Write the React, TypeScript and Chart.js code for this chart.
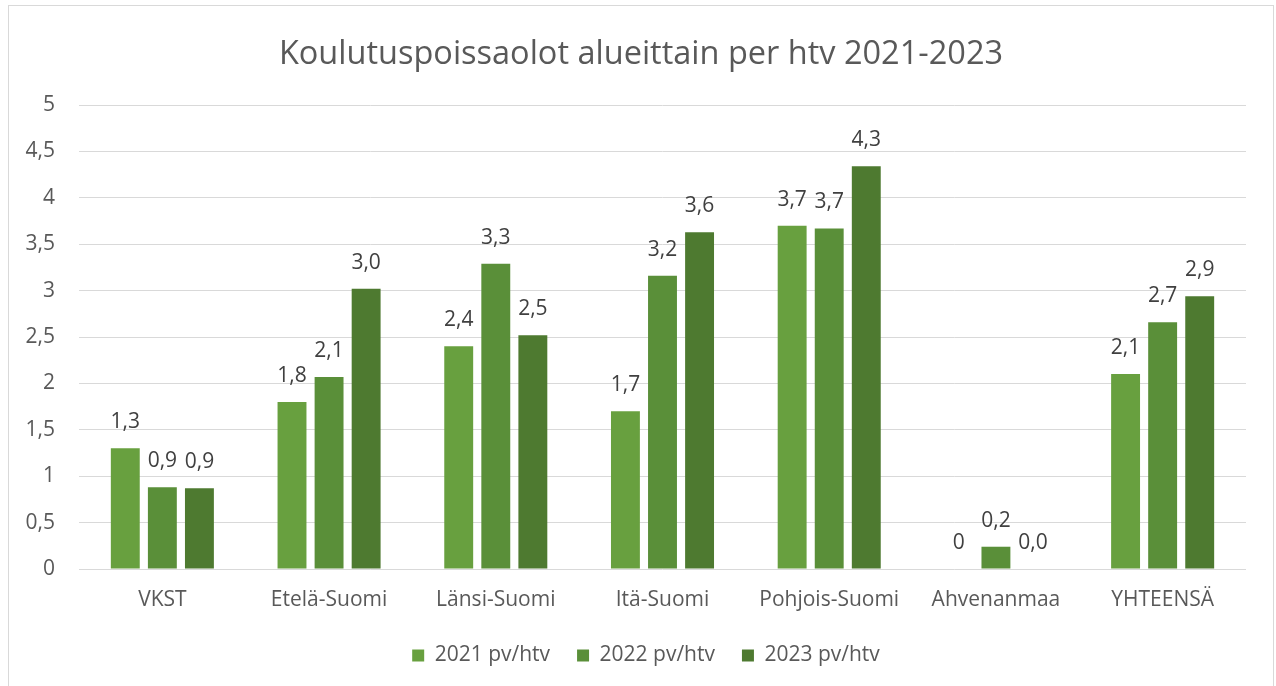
import React, { useEffect, useRef } from "react";
import { Chart, registerables } from "chart.js";

Chart.register(...registerables);

const categories = ["VKST", "Etelä-Suomi", "Länsi-Suomi", "Itä-Suomi", "Pohjois-Suomi", "Ahvenanmaa", "YHTEENSÄ"];
const series2021 = [1.3, 1.8, 2.4, 1.7, 3.7, 0, 2.1];
const series2022 = [0.88, 2.07, 3.29, 3.16, 3.67, 0.24, 2.66];
const series2023 = [0.87, 3.02, 2.52, 3.63, 4.34, 0, 2.94];
const seriesNames = ["2021 pv/htv", "2022 pv/htv", "2023 pv/htv"];
const yTicks = ["0", "0,5", "1", "1,5", "2", "2,5", "3", "3,5", "4", "4,5", "5"];

const FONT = "'Open Sans', sans-serif";
const colors = ["#68a03f", "#5a8f39", "#4e7a30"];

const dataLabels = {
  id: "dataLabels",
  afterDatasetsDraw(chart: any) {
    const ctx = chart.ctx;
    ctx.save();
    ctx.font = `21px ${FONT}`;
    ctx.fillStyle = "#404040";
    ctx.textAlign = "center";
    ctx.textBaseline = "middle";
    chart.data.datasets.forEach((ds: any, di: number) => {
      const meta = chart.getDatasetMeta(di);
      meta.data.forEach((el: any, i: number) => {
        const v = ds.data[i];
        const txt = di === 0 ? String(v).replace(".", ",") : v.toFixed(1).replace(".", ",");
        ctx.fillText(txt, el.x, el.y - 26);
      });
    });
    ctx.restore();
  },
};

// centre title and legend on the framed chart box rather than the plot-shifted layout box
const recenter = {
  id: "recenter",
  afterLayout(chart: any) {
    if (chart.titleBlock) chart.titleBlock.left += 36;
    if (chart.legend) chart.legend.left += 46;
  },
};

export default function App() {
  const ref = useRef<HTMLCanvasElement>(null);
  useEffect(() => {
    const chart = new Chart(ref.current!, {
      type: "bar",
      data: {
        labels: categories,
        datasets: [series2021, series2022, series2023].map((d, i) => ({
          label: seriesNames[i],
          data: d,
          backgroundColor: colors[i],
          categoryPercentage: 0.667,
          barPercentage: 0.78,
        })),
      },
      plugins: [dataLabels, recenter],
      options: {
        animation: false,
        responsive: false,
        layout: { padding: { left: 0, right: 30, top: 0, bottom: 10 } },
        plugins: {
          title: {
            display: true,
            text: "Koulutuspoissaolot alueittain per htv 2021-2023",
            color: "#595959",
            font: { family: FONT, size: 32.5, weight: "normal" },
            padding: { top: 35, bottom: 31 },
          },
          legend: {
            position: "bottom",
            labels: {
              color: "#595959",
              font: { family: FONT, size: 21 },
              boxWidth: 12,
              boxHeight: 12,
              padding: 27,
            },
          },
          tooltip: { enabled: false },
        },
        scales: {
          x: {
            afterFit: (s: any) => { s.height = 49; },
            grid: { display: false, drawTicks: false },
            border: { display: false },
            ticks: { color: "#595959", font: { family: FONT, size: 21 }, padding: 18 },
          },
          y: {
            min: 0,
            max: 5,
            afterFit: (s: any) => { s.width = 79; },
            grid: { color: "#d9d9d9", drawTicks: false },
            border: { display: false },
            ticks: {
              stepSize: 0.5,
              color: "#595959",
              font: { family: FONT, size: 21 },
              padding: 24,
              callback: (_v: any, i: number) => yTicks[i],
            },
          },
        },
      },
    });
    return () => chart.destroy();
  }, []);
  return (
    <div style={{ position: "absolute", left: 0, top: 0, width: 1276, height: 686, background: "#fff", overflow: "hidden" }}>
      <div style={{ position: "absolute", left: 8, top: 5, width: 1266, height: 700, border: "1px solid #d9d9d9", boxSizing: "border-box" }} />
      <canvas ref={ref} width={1276} height={686} style={{ position: "absolute", left: 0, top: 0 }} />
    </div>
  );
}
